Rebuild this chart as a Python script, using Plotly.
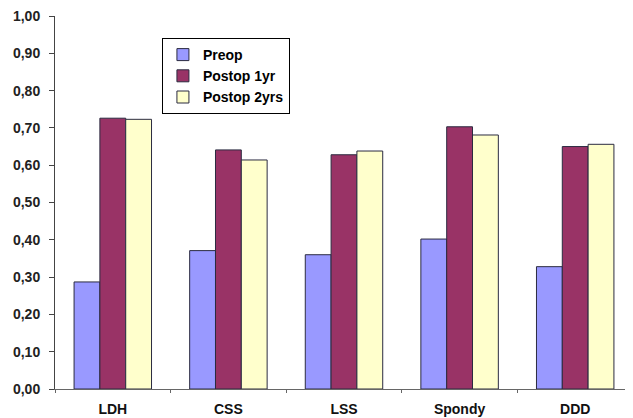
import plotly.graph_objects as go

# Kategorien und Werte
categories = ["LDH", "CSS", "LSS", "Spondy", "DDD"]
preop = [0.287, 0.371, 0.360, 0.402, 0.328]
postop_1yr = [0.726, 0.641, 0.628, 0.703, 0.650]
postop_2yrs = [0.723, 0.614, 0.638, 0.681, 0.656]

series = [
    ("Preop", preop, "#9999FF"),
    ("Postop 1yr", postop_1yr, "#993366"),
    ("Postop 2yrs", postop_2yrs, "#FFFFCC"),
]

FONT = "Liberation Sans, Arial, sans-serif"

fig = go.Figure()
for name, vals, col in series:
    fig.add_trace(go.Bar(
        x=categories, y=vals, name=name, legendgroup=name,
        marker=dict(color=col, line=dict(color="#2b2b40", width=1)),
    ))

# Seite hat 8px Body-Rand -> Figur etwas kleiner, Ränder entsprechend
fig.update_layout(
    width=625, height=410,
    margin=dict(l=47, r=0, t=8, b=29),
    paper_bgcolor="white", plot_bgcolor="white",
    barmode="group", bargap=0.33, bargroupgap=0,
    separators=",.",
    font=dict(family=FONT, size=12, color="black"),
    showlegend=True,
    legend=dict(
        x=0.185, y=0.941, xanchor="left", yanchor="top",
        bordercolor="black", borderwidth=1, bgcolor="white",
        font=dict(family=FONT, size=14, color="black", weight="bold"),
        tracegroupgap=4, traceorder="normal", itemwidth=30,
    ),
    xaxis=dict(
        automargin=False,
        showline=True, linecolor="#666", linewidth=1,
        ticks="outside", tickson="boundaries", ticklen=3, tickcolor="#666",
        tickfont=dict(family=FONT, size=14, weight="bold", color="#111"),
        ticklabelstandoff=7, ticklabeloverflow="allow",
        showgrid=False,
    ),
    yaxis=dict(
        automargin=False,
        range=[0, 1.0], dtick=0.1, tickformat=".2f",
        showline=True, linecolor="#444", linewidth=1,
        ticks="outside", ticklen=5, tickcolor="#444",
        tickfont=dict(family=FONT, size=14, weight="bold", color="#222"),
        ticklabelstandoff=6, ticklabeloverflow="allow",
        showgrid=False, zeroline=False,
    ),
)

fig.write_html("out.html")
